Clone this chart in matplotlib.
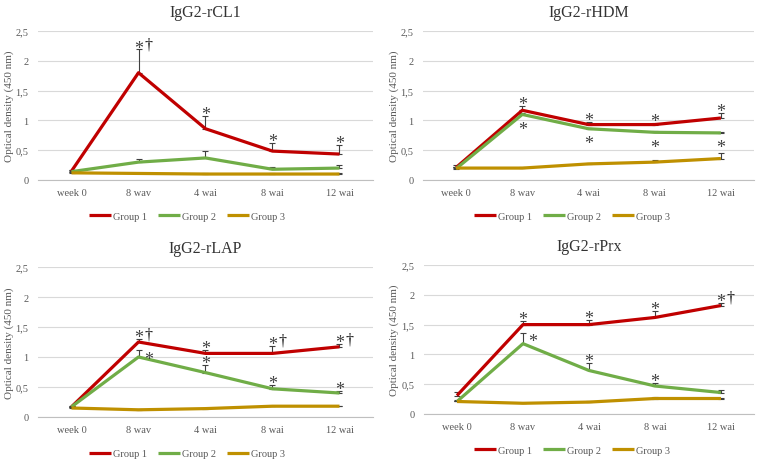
import matplotlib
matplotlib.use("Agg")
import matplotlib.pyplot as plt
import numpy as np

plt.rcParams['font.family'] = ['Liberation Serif', 'DejaVu Serif']

categories = ["week 0", "8 wav", "4 wai", "8 wai", "12 wai"]
groups = ["Group 1", "Group 2", "Group 3"]
colors = ["#C00000", "#70AD47", "#BF9000"]

titles = ["IgG2-rCL1", "IgG2-rHDM", "IgG2-rLAP", "IgG2-rPrx"]

# rCL1
cl1_g1 = [0.15, 1.80, 0.86, 0.485, 0.435]
cl1_g2 = [0.14, 0.30, 0.37, 0.18, 0.20]
cl1_g3 = [0.12, 0.11, 0.10, 0.10, 0.10]
cl1_e1 = [0.02, 0.39, 0.21, 0.13, 0.15]
cl1_e2 = [0.02, 0.05, 0.12, 0.04, 0.06]
cl1_e3 = [0.01, 0.01, 0.01, 0.01, 0.01]

# rHDM
hdm_g1 = [0.21, 1.17, 0.93, 0.93, 1.04]
hdm_g2 = [0.19, 1.10, 0.86, 0.80, 0.79]
hdm_g3 = [0.20, 0.20, 0.27, 0.30, 0.36]
hdm_e1 = [0.04, 0.07, 0.05, 0.03, 0.09]
hdm_e2 = [0.02, 0.02, 0.02, 0.02, 0.02]
hdm_e3 = [0.01, 0.01, 0.02, 0.03, 0.10]

# rLAP
lap_g1 = [0.17, 1.25, 1.06, 1.06, 1.17]
lap_g2 = [0.17, 1.00, 0.74, 0.47, 0.40]
lap_g3 = [0.15, 0.12, 0.14, 0.18, 0.18]
lap_e1 = [0.02, 0.05, 0.06, 0.13, 0.05]
lap_e2 = [0.02, 0.11, 0.12, 0.06, 0.04]
lap_e3 = [0.01, 0.01, 0.01, 0.01, 0.01]

# rPrx
prx_g1 = [0.31, 1.50, 1.50, 1.62, 1.82]
prx_g2 = [0.21, 1.18, 0.73, 0.47, 0.36]
prx_g3 = [0.21, 0.18, 0.20, 0.26, 0.26]
prx_e1 = [0.06, 0.06, 0.08, 0.11, 0.05]
prx_e2 = [0.02, 0.18, 0.12, 0.05, 0.05]
prx_e3 = [0.01, 0.01, 0.01, 0.02, 0.01]

# significance marks: (group index, category index, dagger?, placement)
cl1_marks = [(0, 1, True, "above"), (0, 2, False, "above"), (0, 3, False, "above"), (0, 4, False, "above")]
hdm_marks = [(0, 1, False, "above"), (0, 2, False, "above"), (0, 3, False, "above"), (0, 4, False, "above"),
             (1, 1, False, "below"), (1, 2, False, "below"), (1, 3, False, "below"), (1, 4, False, "below")]
lap_marks = [(0, 1, True, "above"), (0, 2, False, "above"), (0, 3, True, "above"), (0, 4, True, "above"),
             (1, 1, False, "right"), (1, 2, False, "above"), (1, 3, False, "above"), (1, 4, False, "above")]
prx_marks = [(0, 1, False, "above"), (0, 2, False, "above"), (0, 3, False, "above"), (0, 4, True, "above"),
             (1, 1, False, "right"), (1, 2, False, "above"), (1, 3, False, "above")]

panels = [
    (titles[0], [cl1_g1, cl1_g2, cl1_g3], [cl1_e1, cl1_e2, cl1_e3], cl1_marks),
    (titles[1], [hdm_g1, hdm_g2, hdm_g3], [hdm_e1, hdm_e2, hdm_e3], hdm_marks),
    (titles[2], [lap_g1, lap_g2, lap_g3], [lap_e1, lap_e2, lap_e3], lap_marks),
    (titles[3], [prx_g1, prx_g2, prx_g3], [prx_e1, prx_e2, prx_e3], prx_marks),
]

W, H = 764, 464
fig = plt.figure(figsize=(W / 100, H / 100), dpi=100)

# axes boxes in pixels: x0, x1, ytop, ybottom, ylabel right-edge x, legend center x
boxes = [(38, 373, 32, 181, 14, 187), (423, 754, 32, 181, 399, 572),
         (38, 373, 268, 418, 14, 187), (424, 754, 266, 415, 399, 572)]

gray = "#595959"
star_c = "#404040"
fs_star = 13
for (title, series, errs, marks), (x0, x1, yt, yb, ylx, lgx) in zip(panels, boxes):
    ax = fig.add_axes([x0 / W, 1 - yb / H, (x1 - x0) / W, (yb - yt) / H])
    x = np.arange(len(categories))
    for s, e, c, g in zip(series, errs, colors, groups):
        ax.errorbar(x, s, yerr=[np.zeros(len(e)), e], fmt="none", ecolor="#404040",
                    elinewidth=0.8, capsize=2.5, capthick=0.8, zorder=2)
        ax.plot(x, s, color=c, lw=2.3, label=g, zorder=3, solid_capstyle="butt")
    for gi, ci, dagger, place in marks:
        v = series[gi][ci]
        e = errs[gi][ci]
        if place == "above":
            ax.annotate("*", (ci, v + e), xytext=(0, -2.2), textcoords="offset points",
                        ha="center", va="baseline", fontsize=fs_star, color=star_c)
            if dagger:
                ax.annotate("†", (ci, v + e), xytext=(7, 0.5), textcoords="offset points",
                            ha="center", va="baseline", fontsize=11.5, color="#111111")
        elif place == "below":
            ax.annotate("*", (ci, v), xytext=(0, -14), textcoords="offset points",
                        ha="center", va="baseline", fontsize=fs_star, color=star_c)
        else:
            ax.annotate("*", (ci, v + e), xytext=(7, -9.5), textcoords="offset points",
                        ha="center", va="baseline", fontsize=fs_star, color=star_c)
    ax.set_xlim(-0.5, len(categories) - 0.5)
    ax.set_ylim(0, 2.5)
    ax.set_yticks([0, 0.5, 1, 1.5, 2, 2.5])
    ax.set_yticklabels(["0", "0,5", "1", "1,5", "2", "2,5"])
    ax.set_xticks(x)
    ax.set_xticklabels(categories)
    ax.yaxis.grid(True, color="#D9D9D9", lw=0.8)
    ax.set_axisbelow(True)
    for sp in ["top", "right", "left"]:
        ax.spines[sp].set_visible(False)
    ax.spines["bottom"].set_color("#BFBFBF")
    ax.spines["bottom"].set_linewidth(0.8)
    ax.tick_params(axis="both", length=0, labelsize=7.5, colors=gray, pad=6)
    ax.tick_params(axis="y", pad=7)
    ax.set_ylabel("Optical density (450 nm)", fontsize=8, color=gray)
    ax.yaxis.set_label_coords((ylx - x0) / (x1 - x0), 0.5)
    ax.set_title(title, fontsize=11.5, color="#333333", pad=11)
    ax.legend(loc="upper center", bbox_to_anchor=((lgx - x0) / (x1 - x0), -0.15), ncol=3,
              frameon=False, fontsize=7.5, labelcolor=gray, handlelength=2.1,
              handletextpad=0.15, columnspacing=1.1)

fig.savefig("out.png", dpi=100)
